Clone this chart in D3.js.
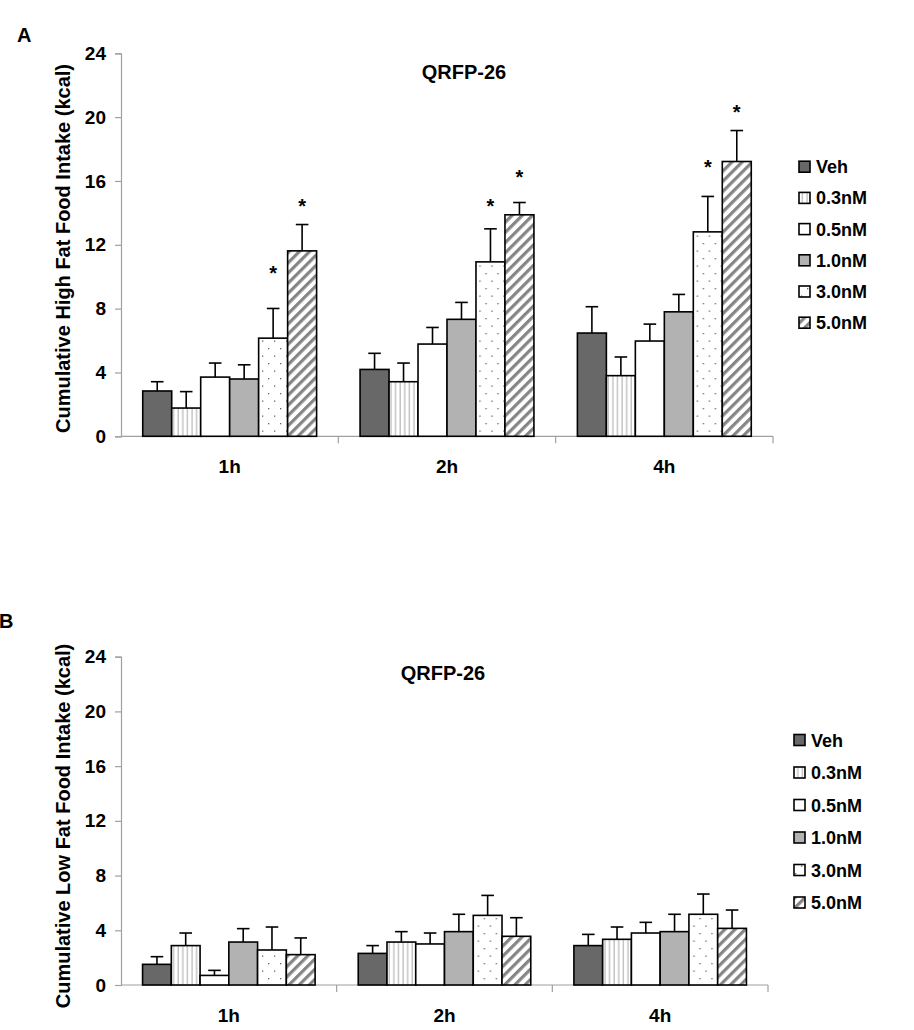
<!DOCTYPE html>
<html><head><meta charset="utf-8">
<script src="https://cdn.jsdelivr.net/npm/d3@7"></script>
<style>body{margin:0;background:#fff}svg{display:block}text{font-family:"Liberation Sans",Arial,sans-serif;font-weight:bold;fill:#000}</style>
</head><body><svg id="c" width="914" height="1030"></svg>
<script>
const categories = ["1h", "2h", "4h"];
const doses = ["Veh", "0.3nM", "0.5nM", "1.0nM", "3.0nM", "5.0nM"];
const yTicks = [0, 4, 8, 12, 16, 20, 24];

// Panel A: high fat, means (rows = time, cols = dose)
const highFatMean = [
  [2.84, 1.77, 3.71, 3.59, 6.15, 11.62],
  [4.19, 3.42, 5.78, 7.33, 10.93, 13.88],
  [6.47, 3.80, 5.97, 7.80, 12.81, 17.22]
];
const highFatErr = [
  [0.58, 1.03, 0.88, 0.89, 1.86, 1.65],
  [1.01, 1.17, 1.04, 1.06, 2.07, 0.77],
  [1.65, 1.17, 1.06, 1.09, 2.22, 1.94]
];
// significance star levels (kcal units), null = none
const highFatStars = [
  [null, null, null, null, 10.5, 14.7],
  [null, null, null, null, 14.7, 16.5],
  [null, null, null, null, 17.1, 20.6]
];
// Panel B: low fat
const lowFatMean = [
  [1.51, 2.88, 0.70, 3.14, 2.56, 2.22],
  [2.31, 3.14, 3.00, 3.90, 5.09, 3.56],
  [2.88, 3.34, 3.80, 3.90, 5.17, 4.14]
];
const lowFatErr = [
  [0.56, 0.92, 0.37, 0.98, 1.68, 1.22],
  [0.57, 0.76, 0.80, 1.27, 1.46, 1.36],
  [0.82, 0.90, 0.78, 1.27, 1.48, 1.34]
];
const lowFatStars = [
  [null, null, null, null, null, null],
  [null, null, null, null, null, null],
  [null, null, null, null, null, null]
];

const svg = d3.select("#c");
const defs = svg.append("defs");
// patterns
const pStripe = defs.append("pattern").attr("id","vstripe").attr("patternUnits","userSpaceOnUse").attr("width",4.6).attr("height",10);
pStripe.append("rect").attr("width",4.6).attr("height",10).attr("fill","#fff");
pStripe.append("line").attr("x1",2).attr("x2",2).attr("y1",0).attr("y2",10).attr("stroke","#a8a8a8").attr("stroke-width",1);
const pDot = defs.append("pattern").attr("id","dots").attr("patternUnits","userSpaceOnUse").attr("width",12).attr("height",15);
pDot.append("rect").attr("width",12).attr("height",15).attr("fill","#fff");
pDot.append("rect").attr("x",3).attr("y",3).attr("width",1.3).attr("height",1.3).attr("fill","#666");
pDot.append("rect").attr("x",9).attr("y",10.5).attr("width",1.3).attr("height",1.3).attr("fill","#666");
const pHatch = defs.append("pattern").attr("id","hatch").attr("patternUnits","userSpaceOnUse").attr("width",7.2).attr("height",7.2).attr("patternTransform","rotate(45)");
pHatch.append("rect").attr("width",7.2).attr("height",7.2).attr("fill","#fff");
pHatch.append("rect").attr("x",0).attr("y",0).attr("width",3.2).attr("height",7.2).attr("fill","#858585");

const fills = ["#686868", "url(#vstripe)", "#ffffff", "#b2b2b2", "url(#dots)", "url(#hatch)"];

function panel(cfg) {
  const g = svg.append("g");
  const x0 = d3.scaleBand().domain(categories).range([cfg.left, cfg.right]).paddingInner(0).paddingOuter(0);
  const x1 = d3.scaleBand().domain(doses).range([x0.bandwidth()*0.1, x0.bandwidth()*0.9]).padding(0);
  const y = d3.scaleLinear().domain([0, 24]).range([cfg.y0, cfg.yTop]);

  // y axis
  const ya = g.append("g").attr("transform", `translate(${cfg.left},0)`).call(d3.axisLeft(y).tickValues(yTicks).tickSize(6).tickPadding(9));
  ya.select(".domain").attr("stroke","#a0a0a0").attr("stroke-width",1.2);
  ya.selectAll(".tick line").attr("stroke","#a0a0a0").attr("stroke-width",1.2);
  ya.selectAll(".tick text").style("font-size","19px").style("font-family","'Liberation Sans',Arial,sans-serif").style("font-weight","bold").attr("fill","#000");

  // x axis baseline and separators
  g.append("line").attr("x1",cfg.left).attr("x2",cfg.right).attr("y1",cfg.y0).attr("y2",cfg.y0).attr("stroke","#a0a0a0").attr("stroke-width",1.2);
  const bounds = categories.map(c => x0(c)).concat([cfg.right]);
  g.selectAll(".sep").data(bounds.slice(1)).join("line")
    .attr("x1",d=>d).attr("x2",d=>d).attr("y1",cfg.y0).attr("y2",cfg.y0+7).attr("stroke","#a0a0a0").attr("stroke-width",1.2);
  g.selectAll(".cat").data(categories).join("text")
    .attr("x", c => x0(c) + x0.bandwidth()/2).attr("y", cfg.y0 + 37).attr("text-anchor","middle").style("font-size","19px").text(c=>c);

  // bars
  categories.forEach((c, ci) => {
    const gg = g.append("g").attr("transform", `translate(${x0(c)},0)`);
    doses.forEach((d, di) => {
      const v = cfg.mean[ci][di], e = cfg.err[ci][di];
      const bx = x1(d), bw = x1.bandwidth(), cx = bx + bw/2;
      gg.append("line").attr("x1",cx).attr("x2",cx).attr("y1",y(v)).attr("y2",y(v+e)).attr("stroke","#000").attr("stroke-width",1.6);
      gg.append("line").attr("x1",cx-6.3).attr("x2",cx+6.3).attr("y1",y(v+e)).attr("y2",y(v+e)).attr("stroke","#000").attr("stroke-width",1.6);
      gg.append("rect").attr("x",bx).attr("y",y(v)).attr("width",bw).attr("height",y(0)-y(v))
        .attr("fill",fills[di]).attr("stroke","#000").attr("stroke-width",1.6);
      const s = cfg.stars[ci][di];
      if (s !== null) {
        gg.append("text").attr("x",cx).attr("y",y(s)+11).attr("text-anchor","middle").style("font-size","20px").text("*");
      }
    });
  });

  // title, panel letter, y label
  g.append("text").attr("x",cfg.titleX).attr("y",cfg.titleY).attr("text-anchor","middle").style("font-size","20px").text("QRFP-26");
  g.append("text").attr("x",cfg.letterX).attr("y",cfg.letterY).style("font-size","20px").text(cfg.letter);
  g.append("text").attr("transform",`translate(70,${cfg.labelY}) rotate(-90)`).attr("text-anchor","middle").style("font-size","20px").text(cfg.ylabel);

  // legend
  const lg = g.append("g");
  doses.forEach((d, i) => {
    const cy = cfg.legY + i*cfg.legStep;
    lg.append("rect").attr("x",cfg.legX).attr("y",cy-5.5).attr("width",11).attr("height",11).attr("fill",fills[i]).attr("stroke","#000").attr("stroke-width",1.6);
    lg.append("text").attr("x",cfg.legX+17).attr("y",cy+6.5).style("font-size","18px").text(d);
  });
}

panel({left:121, right:773, y0:436.3, yTop:53.3, mean:highFatMean, err:highFatErr, stars:highFatStars,
  titleX:464, titleY:79, letter:"A", letterX:17, letterY:42, labelY:248.5,
  ylabel:"Cumulative High Fat Food Intake (kcal)", legX:799, legY:166.7, legStep:31.2});
panel({left:121, right:768, y0:985, yTop:656.7, mean:lowFatMean, err:lowFatErr, stars:lowFatStars,
  titleX:443, titleY:680, letter:"B", letterX:-1, letterY:628, labelY:826,
  ylabel:"Cumulative Low Fat Food Intake (kcal)", legX:794, legY:740, legStep:32.5});
</script></body></html>
